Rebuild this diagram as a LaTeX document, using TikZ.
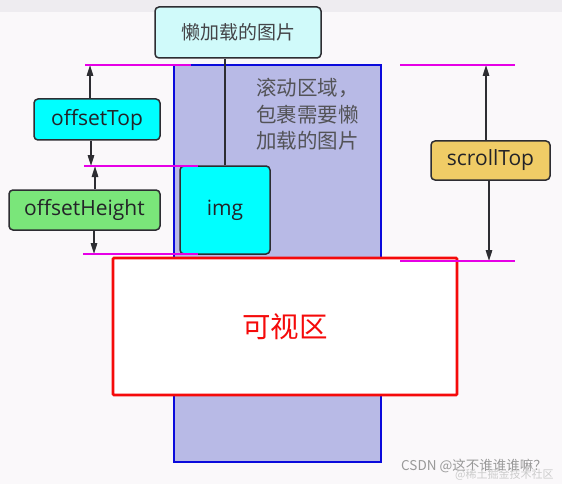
\documentclass[tikz,border=0pt]{standalone}
\usepackage{fontspec}
\setmainfont{Open Sans}
\newfontfamily\cjk{Noto Sans CJK SC}
\usetikzlibrary{arrows.meta}

\begin{document}
\begin{tikzpicture}[x=1pt,y=-1pt,
  box/.style={draw=boxline, line width=1.5pt, rounded corners=4pt, text=boxtext, inner sep=0pt, font=\fontsize{21}{24}\selectfont},
  guide/.style={draw=guidecol, line width=1.6pt},
  dimarrow/.style={draw=boxline, line width=1.5pt, -{Triangle[length=11pt,width=6.5pt]}}]

% Define colors
\definecolor{bgcol}{RGB}{250,248,250}
\definecolor{topband}{RGB}{238,236,240}
\definecolor{boxline}{RGB}{45,45,50}
\definecolor{boxtext}{RGB}{35,35,40}
\definecolor{scrollfill}{RGB}{184,186,230}
\definecolor{scrollline}{RGB}{10,10,220}
\definecolor{lazyfill}{RGB}{208,250,250}
\definecolor{imgcyan}{RGB}{0,255,255}
\definecolor{greenfill}{RGB}{122,230,122}
\definecolor{goldfill}{RGB}{240,204,102}
\definecolor{guidecol}{RGB}{230,0,230}
\definecolor{viewred}{RGB}{245,10,10}

% Background
\useasboundingbox (0,0) rectangle (562,484);
\fill[bgcol] (0,0) rectangle (562,484);
\fill[topband] (0,0) rectangle (562,12);

% Scroll area
\node[draw=scrollline, fill=scrollfill, line width=1.5pt, minimum width=207pt, minimum height=397pt] (scroll) at (277.5,263.5) {};
\node[text=boxtext!78, align=left, font=\cjk\fontsize{20.5}{26.5}\selectfont, anchor=north west, inner sep=0pt] (scrolltext) at (256,78) {滚动区域，\\包裹需要懒\\加载的图片};

% Lazy image label and img
\node[box, fill=lazyfill, text=boxtext!85, minimum width=166pt, minimum height=51pt, font=\cjk\fontsize{19}{22}\selectfont] (lazy) at (238,32.5) {懒加载的图片};
\node[box, fill=imgcyan, minimum width=90pt, minimum height=88pt] (img) at (225,210) {img};
\draw[boxline, line width=1.5pt] (img.north) -- (img.north |- lazy.south);

% Visible area
\node[draw=viewred, fill=white, line width=2.7pt, rounded corners=1pt, minimum width=344pt, minimum height=137pt, text=viewred, font=\cjk\fontsize{28.5}{32}\selectfont] (view) at (285,326.5) {可视区};

% Offset labels
\node[box, fill=imgcyan, minimum width=126pt, minimum height=41pt] (offTop) at (97,119.5) {offsetTop};
\node[box, fill=greenfill, minimum width=151pt, minimum height=40pt] (offHeight) at (84.5,210) {offsetHeight};
\node[box, fill=goldfill, minimum width=119pt, minimum height=39pt] (scrollTop) at (490.5,160.5) {scrollTop};

% Guide lines
\coordinate (gTopL) at (85,65);   \coordinate (gTopLe) at (191,65);
\coordinate (gImgL) at (84,166);  \coordinate (gImgLe) at (198,166);
\coordinate (gBotL) at (83,254);  \coordinate (gBotLe) at (198,254);
\coordinate (gTopR) at (400,65);  \coordinate (gTopRe) at (515,65);
\coordinate (gBotR) at (400,261); \coordinate (gBotRe) at (515,261);

% Arrows
\coordinate (a1) at (90,65);  \coordinate (a2) at (91,166);
\coordinate (a3) at (95,166); \coordinate (a4) at (94,254);
\coordinate (a5) at (486,65); \coordinate (a6) at (489,261);
\draw[dimarrow] (offTop.north -| a1) -- (a1);
\draw[dimarrow] (offTop.south -| a2) -- (a2);
\draw[dimarrow] (offHeight.north -| a3) -- (a3);
\draw[dimarrow] (offHeight.south -| a4) -- (a4);
\draw[dimarrow] (scrollTop.north -| a5) -- (a5);
\draw[dimarrow] (scrollTop.south -| a6) -- (a6);

\draw[guide] (gTopL) -- (gTopLe);
\draw[guide] (gImgL) -- (gImgLe);
\draw[guide] (gBotL) -- (gBotLe);
\draw[guide] (gTopR) -- (gTopRe);
\draw[guide] (gBotR) -- (gBotRe);

% Watermark
\node[text=black!40, font=\cjk\fontsize{13.5}{15}\selectfont, anchor=west, inner sep=0pt] (mark1) at (401,466) {CSDN @这不谁谁谁嘛？};
\node[text=black!20, font=\cjk\fontsize{11}{13}\selectfont, anchor=west, inner sep=0pt] (mark2) at (455,475) {@稀土掘金技术社区};
\end{tikzpicture}
\end{document}
